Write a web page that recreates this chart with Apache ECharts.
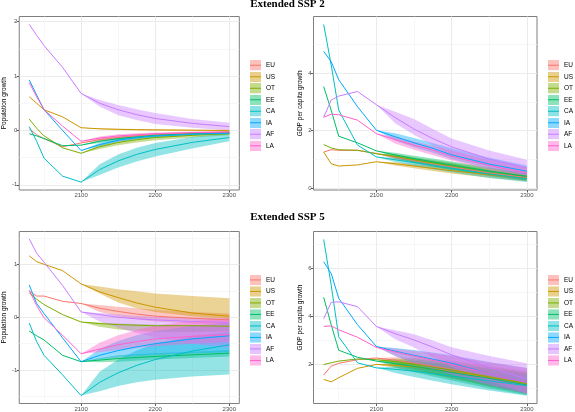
<!DOCTYPE html>
<html><head><meta charset="utf-8">
<script src="https://cdn.jsdelivr.net/npm/echarts@6/dist/echarts.min.js"></script>
<style>html,body{margin:0;padding:0;background:#fff}#c{width:575px;height:412px}</style>
</head><body><div id="c"></div>
<script>
const REGIONS = ['EU','US','OT','EE','CA','IA','AF','LA'];
const HIST_YEARS = [2030, 2040, 2050, 2075, 2100];
const PROJ_YEARS = [2125, 2150, 2175, 2200, 2250, 2300];
const X_MAJOR = [2100, 2200, 2300];
const X_MINOR = [2050, 2150, 2250];

// ---- Extended SSP 2 : Population growth ----
const s2PopHist = [
  [0.03, -0.08, -0.15, -0.30, -0.23],
  [0.62, 0.50, 0.38, 0.25, 0.05],
  [0.21, 0.04, -0.10, -0.32, -0.42],
  [-0.06, -0.10, -0.15, -0.28, -0.27],
  [0.07, -0.20, -0.51, -0.84, -0.95],
  [0.93, 0.65, 0.38, 0.00, -0.37],
  [1.95, 1.75, 1.56, 1.16, 0.68],
  [0.88, 0.62, 0.38, 0.08, -0.20]
];
const s2PopMid = [
  [-0.17, -0.13, -0.10, -0.08, -0.05, -0.03],
  [0.03, 0.02, 0.015, 0.01, 0.005, 0.0],
  [-0.30, -0.22, -0.17, -0.13, -0.09, -0.06],
  [-0.20, -0.15, -0.12, -0.09, -0.06, -0.04],
  [-0.72, -0.56, -0.44, -0.35, -0.22, -0.13],
  [-0.26, -0.18, -0.13, -0.10, -0.07, -0.05],
  [0.50, 0.38, 0.29, 0.22, 0.13, 0.07],
  [-0.14, -0.10, -0.08, -0.06, -0.04, -0.03]
];
const s2PopLo = [
  [-0.19, -0.16, -0.13, -0.11, -0.08, -0.05],
  [0.02, 0.01, 0.005, 0.0, -0.005, -0.01],
  [-0.34, -0.27, -0.22, -0.18, -0.13, -0.09],
  [-0.23, -0.18, -0.15, -0.12, -0.08, -0.06],
  [-0.82, -0.68, -0.57, -0.48, -0.33, -0.20],
  [-0.29, -0.21, -0.16, -0.13, -0.09, -0.07],
  [0.44, 0.28, 0.19, 0.12, 0.05, 0.00],
  [-0.17, -0.13, -0.10, -0.08, -0.06, -0.05]
];
const s2PopHi = [
  [-0.15, -0.10, -0.07, -0.05, -0.03, -0.01],
  [0.04, 0.03, 0.025, 0.02, 0.015, 0.01],
  [-0.26, -0.18, -0.13, -0.10, -0.06, -0.04],
  [-0.17, -0.12, -0.09, -0.07, -0.04, -0.02],
  [-0.62, -0.44, -0.32, -0.23, -0.12, -0.05],
  [-0.23, -0.15, -0.10, -0.07, -0.05, -0.03],
  [0.56, 0.47, 0.39, 0.32, 0.21, 0.14],
  [-0.11, -0.07, -0.05, -0.04, -0.02, -0.01]
];

// ---- Extended SSP 2 : GDP per capita growth ----
const s2GdpHist = [
  [1.25, 1.33, 1.31, 1.31, 1.20],
  [1.25, 0.84, 0.76, 0.80, 0.91],
  [1.51, 1.39, 1.33, 1.31, 1.19],
  [3.53, 2.71, 1.80, 1.57, 1.29],
  [5.70, 4.29, 2.71, 1.49, 1.08],
  [4.76, 4.40, 3.77, 2.83, 2.01],
  [2.46, 3.06, 3.20, 3.36, 2.90],
  [2.46, 2.57, 2.55, 2.36, 1.89]
];
const s2GdpMid = [
  [1.07, 0.95, 0.84, 0.73, 0.52, 0.36],
  [0.84, 0.76, 0.68, 0.60, 0.45, 0.33],
  [1.10, 0.98, 0.87, 0.77, 0.57, 0.40],
  [1.15, 1.02, 0.91, 0.80, 0.58, 0.40],
  [0.98, 0.88, 0.78, 0.68, 0.48, 0.32],
  [1.78, 1.57, 1.38, 1.15, 0.83, 0.58],
  [2.45, 2.05, 1.72, 1.43, 1.00, 0.70],
  [1.68, 1.49, 1.32, 1.10, 0.78, 0.52]
];
const s2GdpLo = [
  [1.00, 0.86, 0.73, 0.62, 0.41, 0.25],
  [0.78, 0.68, 0.59, 0.50, 0.35, 0.22],
  [1.02, 0.88, 0.75, 0.64, 0.44, 0.28],
  [1.05, 0.88, 0.75, 0.63, 0.42, 0.25],
  [0.90, 0.77, 0.65, 0.54, 0.34, 0.20],
  [1.65, 1.42, 1.22, 1.00, 0.68, 0.45],
  [2.25, 1.85, 1.48, 1.15, 0.75, 0.45],
  [1.55, 1.33, 1.14, 0.95, 0.62, 0.38]
];
const s2GdpHi = [
  [1.13, 1.03, 0.93, 0.84, 0.63, 0.46],
  [0.89, 0.83, 0.76, 0.69, 0.55, 0.43],
  [1.17, 1.07, 0.97, 0.88, 0.68, 0.50],
  [1.22, 1.12, 1.02, 0.92, 0.72, 0.52],
  [1.05, 0.98, 0.89, 0.80, 0.60, 0.44],
  [1.90, 1.74, 1.56, 1.38, 1.05, 0.78],
  [2.65, 2.40, 2.05, 1.72, 1.30, 0.98],
  [1.78, 1.62, 1.47, 1.30, 0.97, 0.70]
];

// ---- Extended SSP 5 : Population growth ----
const s5PopHist = [
  [0.49, 0.40, 0.40, 0.30, 0.26],
  [1.16, 1.05, 1.00, 0.88, 0.63],
  [0.46, 0.34, 0.24, 0.05, -0.09],
  [-0.26, -0.35, -0.43, -0.72, -0.84],
  [-0.11, -0.46, -0.72, -1.09, -1.48],
  [0.61, 0.26, 0.07, -0.39, -0.84],
  [1.48, 1.21, 1.04, 0.60, 0.10],
  [0.51, 0.22, -0.01, -0.34, -0.69]
];
const s5PopMid = [
  [0.17, 0.11, 0.06, 0.02, -0.02, -0.05],
  [0.48, 0.37, 0.27, 0.19, 0.08, 0.02],
  [-0.12, -0.14, -0.15, -0.16, -0.16, -0.17],
  [-0.81, -0.78, -0.76, -0.74, -0.71, -0.68],
  [-1.23, -1.05, -0.91, -0.80, -0.64, -0.52],
  [-0.72, -0.63, -0.56, -0.50, -0.41, -0.35],
  [0.05, 0.00, -0.03, -0.05, -0.08, -0.10],
  [-0.60, -0.52, -0.46, -0.41, -0.36, -0.33]
];
const s5PopLo = [
  [0.10, 0.02, -0.04, -0.08, -0.12, -0.15],
  [0.45, 0.28, 0.17, 0.10, 0.02, -0.03],
  [-0.18, -0.23, -0.26, -0.28, -0.28, -0.27],
  [-0.85, -0.84, -0.82, -0.80, -0.77, -0.74],
  [-1.40, -1.30, -1.23, -1.18, -1.12, -1.08],
  [-0.80, -0.76, -0.73, -0.71, -0.68, -0.66],
  [-0.08, -0.20, -0.30, -0.38, -0.50, -0.58],
  [-0.66, -0.62, -0.58, -0.55, -0.50, -0.47]
];
const s5PopHi = [
  [0.23, 0.20, 0.17, 0.14, 0.10, 0.07],
  [0.58, 0.53, 0.49, 0.45, 0.40, 0.36],
  [-0.10, -0.12, -0.13, -0.14, -0.14, -0.15],
  [-0.77, -0.72, -0.70, -0.68, -0.65, -0.62],
  [-1.03, -0.80, -0.63, -0.50, -0.36, -0.28],
  [-0.60, -0.45, -0.34, -0.26, -0.16, -0.10],
  [0.08, 0.05, 0.03, 0.01, -0.01, -0.02],
  [-0.48, -0.34, -0.24, -0.16, -0.07, -0.02]
];

// ---- Extended SSP 5 : GDP per capita growth ----
const s5GdpHist = [
  [1.56, 1.93, 2.05, 2.20, 2.27],
  [1.38, 1.28, 1.45, 1.84, 2.00],
  [2.00, 2.07, 2.14, 2.23, 2.20],
  [4.79, 3.65, 2.59, 2.30, 2.14],
  [7.19, 5.30, 3.15, 2.07, 1.86],
  [6.26, 5.78, 4.75, 3.65, 2.75],
  [3.90, 4.58, 4.60, 4.40, 3.58],
  [3.58, 3.60, 3.44, 3.13, 2.71]
];
const s5GdpMid = [
  [2.18, 2.06, 1.93, 1.80, 1.50, 1.20],
  [1.96, 1.90, 1.81, 1.71, 1.47, 1.22],
  [2.12, 2.01, 1.89, 1.77, 1.49, 1.20],
  [2.04, 1.92, 1.80, 1.67, 1.42, 1.15],
  [1.80, 1.72, 1.62, 1.52, 1.32, 1.12],
  [2.55, 2.38, 2.22, 2.05, 1.62, 1.25],
  [3.28, 3.02, 2.72, 2.40, 1.88, 1.40],
  [2.52, 2.35, 2.18, 2.00, 1.62, 1.25]
];
const s5GdpLo = [
  [2.02, 1.82, 1.62, 1.45, 1.10, 0.78],
  [1.85, 1.72, 1.57, 1.43, 1.12, 0.85],
  [1.98, 1.78, 1.60, 1.42, 1.08, 0.76],
  [1.88, 1.68, 1.50, 1.33, 1.00, 0.72],
  [1.65, 1.48, 1.32, 1.18, 0.92, 0.70],
  [2.35, 2.05, 1.80, 1.58, 1.15, 0.80],
  [3.05, 2.70, 2.30, 1.90, 1.30, 0.80],
  [2.35, 2.05, 1.80, 1.58, 1.15, 0.78]
];
const s5GdpHi = [
  [2.30, 2.28, 2.22, 2.15, 1.95, 1.72],
  [2.06, 2.06, 2.03, 1.98, 1.82, 1.65],
  [2.24, 2.22, 2.16, 2.08, 1.88, 1.68],
  [2.18, 2.14, 2.08, 2.00, 1.82, 1.62],
  [1.92, 1.92, 1.88, 1.83, 1.68, 1.52],
  [2.68, 2.60, 2.50, 2.38, 2.10, 1.85],
  [3.42, 3.25, 3.00, 2.72, 2.35, 2.05],
  [2.65, 2.57, 2.47, 2.35, 2.08, 1.85]
];

// axis ticks
const yMajorTL = [-1, 0, 1, 2], yMinorTL = [-0.5, 0.5, 1.5];
const yMajorTR = [0, 2, 4], yMinorTR = [1, 3, 5];
const yMajorBL = [-1, 0, 1], yMinorBL = [-1.5, -0.5, 0.5, 1.5];
const yMajorBR = [2, 4, 6], yMinorBR = [1, 3, 5, 7];
const TITLES = ['Extended SSP 2', 'Extended SSP 5'];
const Y_NAMES = ['Population growth', 'GDP per capita growth'];

const COLORS = ['#F8766D','#CD9600','#7CAE00','#00BE67','#00BFC4','#00A9FF','#C77CFF','#FF61CC'];
function rgba(hex, a) {
  const n = parseInt(hex.slice(1), 16);
  return 'rgba(' + ((n >> 16) & 255) + ',' + ((n >> 8) & 255) + ',' + (n & 255) + ',' + a + ')';
}
function keyIcon(c) {
  const svg = '<svg xmlns="http://www.w3.org/2000/svg" width="22" height="21">' +
    '<rect x="0" y="0" width="22" height="21" fill="' + c + '" fill-opacity="0.45"/>' +
    '<line x1="0" y1="10.5" x2="22" y2="10.5" stroke="' + c + '" stroke-width="2"/></svg>';
  return 'image://data:image/svg+xml;utf8,' + encodeURIComponent(svg);
}

const panels = [
  {hist: s2PopHist, mid: s2PopMid, lo: s2PopLo, hi: s2PopHi, ymin: -1.095, ymax: 2.095, major: yMajorTL, minor: yMinorTL, name: Y_NAMES[0],
   grid: {left: 18.3, top: 16.5, width: 221, height: 173.5}, legend: {left: 250, top: 60}},
  {hist: s2GdpHist, mid: s2GdpMid, lo: s2GdpLo, hi: s2GdpHi, ymin: -0.075, ymax: 5.975, major: yMajorTR, minor: yMinorTR, name: Y_NAMES[1],
   grid: {left: 313.5, top: 16.5, width: 223.5, height: 173.5}, legend: {left: 548, top: 60}},
  {hist: s5PopHist, mid: s5PopMid, lo: s5PopLo, hi: s5PopHi, ymin: -1.63, ymax: 1.62, major: yMajorBL, minor: yMinorBL, name: Y_NAMES[0],
   grid: {left: 18.3, top: 231.5, width: 221, height: 173}, legend: {left: 250, top: 274.7}},
  {hist: s5GdpHist, mid: s5GdpMid, lo: s5GdpLo, hi: s5GdpHi, ymin: 0.38, ymax: 7.52, major: yMajorBR, minor: yMinorBR, name: Y_NAMES[1],
   grid: {left: 313.5, top: 231.5, width: 223.5, height: 173}, legend: {left: 548, top: 274.7}}
];

const SANS = 'Liberation Sans, Arial, sans-serif';
const grids = [], xAxes = [], yAxes = [], series = [], legends = [];
const plain = function (v) { return String(v); };

panels.forEach(function (p, pi) {
  grids.push(Object.assign({show: true, borderColor: '#7f7f7f', borderWidth: 1, backgroundColor: '#fff', containLabel: false}, p.grid));
  xAxes.push({
    type: 'value', gridIndex: pi, min: 2016.5, max: 2313.5, position: 'bottom',
    axisLine: {show: false, onZero: false},
    axisTick: {show: true, length: 2.5, customValues: X_MAJOR, lineStyle: {color: '#333', width: 0.8}},
    axisLabel: {customValues: X_MAJOR, formatter: plain, fontSize: 6, color: '#4d4d4d', fontFamily: SANS, margin: 2.5},
    splitLine: {show: true, lineStyle: {color: '#ebebeb', width: 1}}
  });
  yAxes.push({
    type: 'value', gridIndex: pi, min: p.ymin, max: p.ymax, position: 'left',
    name: p.name, nameLocation: 'middle', nameGap: 10,
    nameTextStyle: {fontSize: 6.5, color: '#000', fontFamily: SANS},
    axisLine: {show: false, onZero: false},
    axisTick: {show: true, length: 2.5, customValues: p.major, lineStyle: {color: '#333', width: 0.8}},
    axisLabel: {customValues: p.major, formatter: plain, fontSize: 6, color: '#4d4d4d', fontFamily: SANS, margin: 2},
    splitLine: {show: true, lineStyle: {color: '#ebebeb', width: 1}}
  });
  legends.push({
    orient: 'vertical', left: p.legend.left, top: p.legend.top, padding: 0,
    itemWidth: 11, itemHeight: 10.5, itemGap: 1, itemTextGap: 4, selectedMode: false,
    textStyle: {fontSize: 6.5, color: '#000', fontFamily: SANS},
    data: REGIONS.map(function (r, i) { return {name: r, icon: keyIcon(COLORS[i])}; })
  });
});
// minor grid axes
panels.forEach(function (p, pi) {
  xAxes.push({
    type: 'value', gridIndex: pi, min: 2016.5, max: 2313.5, position: 'bottom',
    axisLine: {show: false, onZero: false}, axisLabel: {show: false},
    axisTick: {show: false, customValues: X_MINOR},
    splitLine: {show: true, lineStyle: {color: '#f4f4f4', width: 0.7}}
  });
  yAxes.push({
    type: 'value', gridIndex: pi, min: p.ymin, max: p.ymax, position: 'left',
    axisLine: {show: false, onZero: false}, axisLabel: {show: false},
    axisTick: {show: false, customValues: p.minor},
    splitLine: {show: true, lineStyle: {color: '#f4f4f4', width: 0.7}}
  });
});

panels.forEach(function (p, pi) {
  REGIONS.forEach(function (r, ri) {
    const c = COLORS[ri];
    const h = p.hist[ri];
    const yrs = [HIST_YEARS[HIST_YEARS.length - 1]].concat(PROJ_YEARS);
    const lo = [h[h.length - 1]].concat(p.lo[ri]);
    const hi = [h[h.length - 1]].concat(p.hi[ri]);
    series.push({
      type: 'custom', name: r, xAxisIndex: pi, yAxisIndex: pi, z: 1, silent: true, clip: true,
      data: yrs.map(function (y, i) { return [y, lo[i], hi[i]]; }),
      encode: {x: 0, y: [1, 2]},
      renderItem: function (params, api) {
        if (params.dataIndex !== 0) return null;
        const top = [], bot = [];
        for (let i = 0; i < yrs.length; i++) {
          top.push(api.coord([yrs[i], hi[i]]));
          bot.push(api.coord([yrs[i], lo[i]]));
        }
        return {type: 'polygon', shape: {points: top.concat(bot.reverse())}, style: {fill: rgba(c, 0.42)}};
      }
    });
  });
  REGIONS.forEach(function (r, ri) {
    const c = COLORS[ri];
    const xs = HIST_YEARS.concat(PROJ_YEARS);
    const ys = p.hist[ri].concat(p.mid[ri]);
    series.push({
      type: 'line', name: r, xAxisIndex: pi, yAxisIndex: pi, z: 3, silent: true,
      showSymbol: false, symbol: 'none', color: c,
      lineStyle: {color: c, width: 1},
      data: xs.map(function (x, i) { return [x, ys[i]]; })
    });
  });
});

const titleStyle = {fontFamily: 'Liberation Serif, Times New Roman, serif', fontWeight: 'bold', fontSize: 11, color: '#000'};
const chart = echarts.init(document.getElementById('c'), null, {renderer: 'canvas'});
chart.setOption({
  animation: false,
  backgroundColor: '#fff',
  title: [
    {text: TITLES[0], left: 'center', top: -1, padding: 0, textStyle: titleStyle},
    {text: TITLES[1], left: 'center', top: 212, padding: 0, textStyle: titleStyle}
  ],
  legend: legends,
  grid: grids,
  xAxis: xAxes,
  yAxis: yAxes,
  series: series
});
</script>
</body></html>
